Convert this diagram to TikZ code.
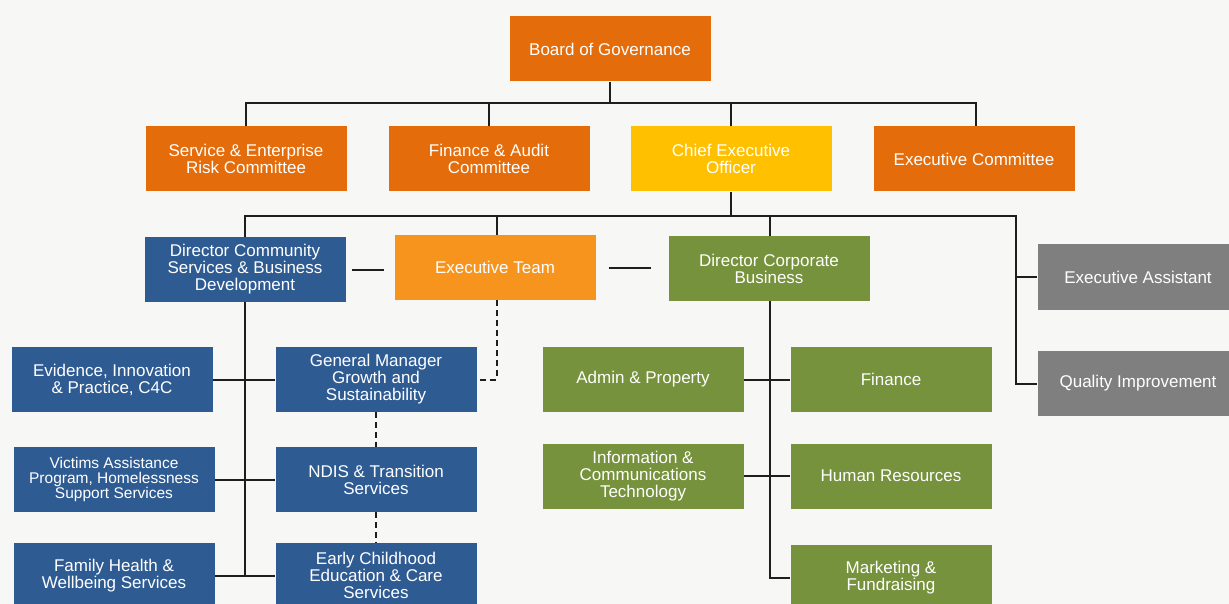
\documentclass[tikz,border=0pt]{standalone}
\usepackage{fontspec}
\setmainfont{Liberation Sans}
\definecolor{cBg}{HTML}{F7F7F5}
\definecolor{cOrange}{HTML}{E46C0A}
\definecolor{cYellow}{HTML}{FFC000}
\definecolor{cLight}{HTML}{F7941E}
\definecolor{cBlue}{HTML}{2F5B93}
\definecolor{cGreen}{HTML}{76923C}
\definecolor{cGray}{HTML}{7F7F7F}
\definecolor{cLine}{HTML}{1E1E1E}
\begin{document}
\begin{tikzpicture}[x=1pt,y=-1pt,
  box/.style={minimum width=201pt,minimum height=65pt,inner sep=2pt,align=center,text=white,font=\fontsize{17}{17}\selectfont},
  orangebox/.style={box,fill=cOrange},
  yellowbox/.style={box,fill=cYellow},
  lightbox/.style={box,fill=cLight},
  bluebox/.style={box,fill=cBlue},
  greenbox/.style={box,fill=cGreen},
  graybox/.style={box,fill=cGray},
  conn/.style={line width=2pt,draw=cLine},
  dconn/.style={conn,dash pattern=on 6pt off 4pt}]
\clip (0,0) rectangle (1229,604);
\fill[cBg] (0,0) rectangle (1229,604);

% level 0/1
\node[orangebox] (bog) at (610,49) {Board of Governance};
\node[orangebox] (serc) at (246,159) {Service \& Enterprise\\Risk Committee};
\node[orangebox] (fac) at (489,159) {Finance \& Audit\\Committee};
\node[yellowbox] (ceo) at (731,159) {Chief Executive\\Officer};
\node[orangebox] (exc) at (974,159) {Executive Committee};

% level 2
\node[bluebox] (dcs) at (245,269.5) {Director Community\\Services \& Business\\Development};
\node[lightbox] (et) at (495,267.5) {Executive Team};
\node[greenbox] (dcb) at (769,268.5) {Director Corporate\\Business};
\node[graybox] (ea) at (1138,277) {Executive Assistant};
\node[graybox] (qi) at (1138,383.5) {Quality Improvement};

% community branch
\node[bluebox] (eip) at (112,379.5) {Evidence, Innovation\\\& Practice, C4C};
\node[bluebox] (gm) at (376,379.5) {General Manager\\Growth and\\Sustainability};
\node[bluebox,font=\fontsize{15.5}{15}\selectfont] (vic) at (114,479.5) {Victims Assistance\\Program, Homelessness\\Support Services};
\node[bluebox] (ndis) at (376,479.5) {NDIS \& Transition\\Services};
\node[bluebox] (fam) at (114,575.5) {Family Health \&\\Wellbeing Services};
\node[bluebox] (ecec) at (376,575.5) {Early Childhood\\Education \& Care\\Services};

% corporate branch
\node[greenbox] (adm) at (643,379.5) {Admin \& Property};
\node[greenbox] (fin) at (891,379.5) {Finance};
\node[greenbox] (ict) at (643,476) {Information \&\\Communications\\Technology};
\node[greenbox] (hr) at (891,476) {Human Resources};
\node[greenbox] (mkt) at (891,577.5) {Marketing \&\\Fundraising};

% board bus
\coordinate (busA) at (0,103);
\draw[conn] (bog.south) -- (bog.south |- busA);
\draw[conn] (serc.north) |- ([xshift=2pt]exc.north |- busA) -- ([xshift=2pt]exc.north);
\draw[conn] (fac.north) -- (fac.north |- busA);
\draw[conn] (ceo.north) -- (ceo.north |- busA);

% ceo bus
\coordinate (busB) at (0,216);
\coordinate (rv) at (1016,216);
\draw[conn] (ceo.south) -- (ceo.south |- busB);
\draw[conn] (dcs.north) |- (rv) |- (qi.west);
\draw[conn] ([xshift=2pt]et.north) -- ([xshift=2pt]et.north |- busB);
\draw[conn] ([xshift=1pt]dcb.north) -- ([xshift=1pt]dcb.north |- busB);
\draw[conn] (rv |- ea.west) -- (ea.west);

% loose links of the executive team
\draw[conn] ([xshift=6pt]dcs.east) -- ([xshift=-10pt]et.west |- dcs.east);
\draw[conn] ([xshift=13pt]et.east) -- ([xshift=-17pt]dcb.west |- et.east);

% community branch connectors
\coordinate (cv) at (245,576);
\draw[conn] (dcs.south) -- (cv);
\draw[conn] (eip.east) -- (gm.west);
\draw[conn] (vic.east) -- (ndis.west);
\draw[conn] (fam.east) -- (ecec.west);

% dashed
\draw[dconn] ([xshift=2pt]et.south) |- (gm.east);
\draw[dconn] (gm.south) -- (ndis.north);
\draw[dconn] (ndis.south) -- (ecec.north);

% corporate branch connectors
\draw[conn] ([xshift=1pt]dcb.south) |- (mkt.west);
\draw[conn] (adm.east) -- (fin.west);
\draw[conn] (ict.east) -- (hr.west);
\end{tikzpicture}
\end{document}
